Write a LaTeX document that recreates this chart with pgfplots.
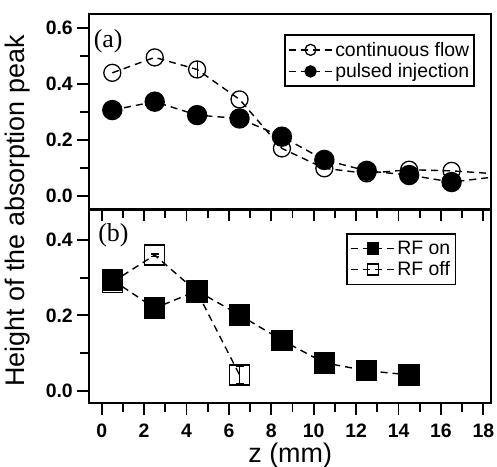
\documentclass[border=0pt]{standalone}
\usepackage{fontspec}
\setmainfont{Liberation Sans}
\newfontfamily\seriffont{Liberation Serif}
\usepackage{pgfplots}
\pgfplotsset{compat=1.18}

\pgfplotsset{
  panel/.style={
    scale only axis, width=401.7bp,
    xmin=-0.585, xmax=18.36,
    xtick={0,2,...,18}, minor x tick num=1, minor y tick num=1,
    tick align=outside, xtick pos=bottom, ytick pos=left,
    major tick length=12bp, minor tick length=9bp,
    axis line style={line width=1.6bp},
    tick style={black, line width=1.8bp},
    ticklabel style={font=\fontsize{19.5}{21}\selectfont\bfseries},
    /pgf/number format/assume math mode=true,
    yticklabel style={xshift=-1bp, /pgf/number format/.cd, fixed, fixed zerofill, precision=1},
    legend style={font=\fontsize{19.5}{22}\selectfont, draw=black, line width=1.5bp,
      inner xsep=3bp, inner ysep=5bp, row sep=2bp,
      legend cell align=left},
    legend image code/.code={
      \draw[mark repeat=2, mark phase=2, #1, mark size=5.5bp]
        plot coordinates {(0bp,0bp) (22bp,0bp) (44bp,0bp)};},
  },
  dline/.style={black, line width=1.4bp, dash pattern=on 7bp off 5bp},
}

\begin{document}
\begin{tikzpicture}
% (b) lower panel
\begin{axis}[panel, name=bot, at={(0,0)}, anchor=south west,
  height=193.2bp, ymin=-0.0319, ymax=0.481,
  ytick={0,0.2,0.4},
  xticklabel style={yshift=-6bp},
  legend style={at={(0.913,0.877)}, anchor=north east}]
\addplot[dline, mark=square*, mark size=10bp, mark options={solid}]
  coordinates {(0.5,0.294) (2.5,0.219) (4.5,0.265) (6.5,0.201) (8.5,0.134) (10.5,0.074) (12.5,0.053) (14.5,0.042)};
\addlegendentry{RF on}
\addplot[dline, mark=square, mark size=10bp, mark options={solid, line width=1.3bp}]
  coordinates {(0.5,0.288) (2.5,0.360) (4.5,0.262) (6.5,0.042)};
\addlegendentry{RF off}
\addplot[draw=none, mark=none, forget plot, line width=1.3bp,
  error bars/.cd, y dir=both, y explicit, error mark options={rotate=90, mark size=4bp, line width=1.3bp}]
  coordinates {(2.5,0.360) +- (0,0.003) (6.5,0.042) +- (0,0.023)};
\node[font=\seriffont\fontsize{26}{28}\selectfont] at (rel axis cs:0.060,0.868) {(b)};
\end{axis}
% (a) upper panel
\begin{axis}[panel, name=top, at={(0,193.2bp)}, anchor=south west,
  height=195.5bp, ymin=-0.048, ymax=0.65,
  ytick={0,0.2,0.4,0.6}, xticklabels={},
  legend style={at={(0.960,0.896)}, anchor=north east}]
\addplot[dline, mark=o, mark size=8.5bp, mark options={solid, line width=1.3bp}]
  coordinates {(0.5,0.440) (2.5,0.495) (4.5,0.452) (6.5,0.345) (8.5,0.170) (10.5,0.099) (12.5,0.081) (14.5,0.094) (16.5,0.090) (18.5,0.080)};
\addlegendentry{continuous flow}
\addplot[dline, mark=*, mark size=9.5bp, mark options={solid}]
  coordinates {(0.5,0.307) (2.5,0.337) (4.5,0.289) (6.5,0.277) (8.5,0.212) (10.5,0.129) (12.5,0.090) (14.5,0.075) (16.5,0.050) (18.5,0.068)};
\addlegendentry{pulsed injection}
\addplot[draw=none, mark=none, forget plot, line width=1.3bp,
  error bars/.cd, y dir=both, y explicit, error mark options={rotate=90, mark size=4bp, line width=1.3bp}]
  coordinates {(4.5,0.452) +- (0,0.028)};
\node[font=\seriffont\fontsize{26}{28}\selectfont] at (rel axis cs:0.047,0.862) {(a)};
\end{axis}
\draw[line width=3bp] (top.south west) -- (top.south east);
\node[rotate=90, font=\fontsize{27}{30}\selectfont] at (-71.3bp,191.7bp) {Height of the absorption peak};
\node[font=\fontsize{27}{30}\selectfont] at (200.9bp,-52.5bp) {z (mm)};
\pgfresetboundingbox
\path[use as bounding box] (-89.3bp,-64.3bp) rectangle (407.7bp,402.7bp);
\end{tikzpicture}
\end{document}
